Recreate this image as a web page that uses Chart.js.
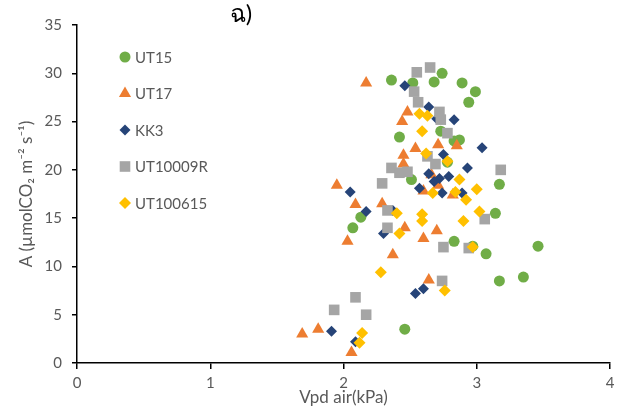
<!DOCTYPE html>
<html>
<head>
<meta charset="utf-8">
<script src="https://cdn.jsdelivr.net/npm/chart.js@4/dist/chart.umd.min.js"></script>
<style>
  html, body { margin: 0; padding: 0; background: #fff; }
  #wrap { width: 627px; height: 419px; }
</style>
</head>
<body>
<div id="wrap"><canvas id="myCanvas" width="627" height="419"></canvas></div>
<script>
// values
var seriesNames = ['UT15', 'UT17', 'KK3', 'UT10009R', 'UT100615'];

var ut15X = [2.36, 2.52, 2.74, 2.68, 2.89, 2.99, 2.94, 2.73, 2.42, 2.83, 2.87, 2.78, 2.51, 3.17, 3.14, 2.83, 2.97, 3.07, 3.46, 2.13, 2.07, 3.17, 3.35, 2.46];
var ut15Y = [29.3, 29.0, 30.0, 29.1, 29.0, 28.1, 27.0, 24.0, 23.4, 23.0, 23.1, 20.8, 19.0, 18.5, 15.5, 12.6, 12.1, 11.3, 12.1, 15.1, 14.0, 8.5, 8.9, 3.5];

var ut17X = [2.17, 2.48, 2.44, 2.54, 2.71, 2.85, 2.45, 2.45, 1.95, 2.09, 2.29, 2.03, 2.37, 2.66, 2.71, 2.60, 2.82, 2.46, 2.70, 2.60, 2.64, 1.69, 1.81, 2.06];
var ut17Y = [29.0, 26.0, 25.0, 22.2, 22.6, 22.5, 21.5, 20.6, 18.4, 16.4, 16.5, 12.6, 11.2, 19.5, 18.4, 17.8, 17.4, 14.0, 13.7, 12.9, 8.6, 3.0, 3.5, 1.1];

var kk3X = [2.46, 2.64, 2.83, 2.70, 3.04, 2.75, 2.93, 2.64, 2.72, 2.68, 2.79, 2.57, 2.74, 2.89, 2.37, 2.05, 2.17, 2.30, 1.91, 2.09, 2.54, 2.60];
var kk3Y = [28.7, 26.5, 25.2, 25.3, 22.3, 21.6, 20.2, 19.6, 19.1, 18.8, 19.3, 18.1, 17.6, 17.6, 15.8, 17.7, 15.7, 13.4, 3.3, 2.2, 7.2, 7.7];

var ut10009rX = [2.65, 2.55, 2.53, 2.56, 2.72, 2.73, 2.78, 2.63, 2.36, 2.42, 2.48, 2.69, 3.18, 2.29, 2.33, 2.33, 3.06, 2.75, 2.94, 2.74, 2.09, 1.93, 2.17];
var ut10009rY = [30.6, 30.1, 28.1, 27.0, 26.0, 25.2, 23.8, 21.4, 20.2, 19.7, 19.8, 20.6, 20.0, 18.6, 15.8, 14.0, 14.9, 12.0, 11.9, 8.5, 6.8, 5.5, 5.0];

var ut100615X = [2.57, 2.63, 2.59, 2.62, 2.78, 2.87, 3.00, 2.67, 2.84, 2.92, 3.02, 2.40, 2.59, 2.59, 2.90, 2.42, 2.97, 2.28, 2.14, 2.12, 2.76];
var ut100615Y = [25.8, 25.6, 24.0, 21.7, 20.9, 19.0, 18.0, 17.6, 17.7, 16.9, 15.7, 15.5, 15.4, 14.7, 14.7, 13.4, 12.0, 9.4, 3.1, 2.1, 7.5];

var xTicks = [0, 1, 2, 3, 4];
var yTicks = [0, 5, 10, 15, 20, 25, 30, 35];

function pts(xs, ys) {
    var out = [];
    for (var i = 0; i < xs.length; i++) out.push({x: xs[i], y: ys[i]});
    return out;
}

var fontName = 'Lato, "Noto Sans", sans-serif';
var textGrey = '#595959';

// order: later series drawn on top, like the original
var datasets = [
    {label: seriesNames[0], data: pts(ut15X, ut15Y), pointStyle: 'circle', pointRadius: 5.5, backgroundColor: '#70AD47', borderColor: '#70AD47', order: 4},
    {label: seriesNames[1], data: pts(ut17X, ut17Y), pointStyle: 'triangle', pointRadius: 7, backgroundColor: '#ED7D31', borderColor: '#ED7D31', order: 3},
    {label: seriesNames[2], data: pts(kk3X, kk3Y), pointStyle: 'rectRot', pointRadius: 5.5, backgroundColor: '#264478', borderColor: '#264478', order: 2},
    {label: seriesNames[3], data: pts(ut10009rX, ut10009rY), pointStyle: 'rect', pointRadius: 7.5, backgroundColor: '#A5A5A5', borderColor: '#A5A5A5', order: 1},
    {label: seriesNames[4], data: pts(ut100615X, ut100615Y), pointStyle: 'rectRot', pointRadius: 6, backgroundColor: '#FFC000', borderColor: '#FFC000', order: 0}
];
datasets.forEach(function (d) { d.borderWidth = 0; d.pointHoverRadius = d.pointRadius; });

// legend sits inside the plot, top left
var insideLegend = {
    id: 'insideLegend',
    afterDraw: function (chart) {
        var ctx = chart.ctx;
        var x0 = 125, y0 = 57, gap = 36.5;
        ctx.save();
        chart.data.datasets.forEach(function (d, i) {
            var y = y0 + i * gap;
            ctx.fillStyle = d.backgroundColor;
            ctx.strokeStyle = d.backgroundColor;
            ctx.lineWidth = 0;
            Chart.helpers.drawPoint(ctx, {pointStyle: d.pointStyle, radius: d.pointRadius, borderWidth: 0}, x0, y);
            ctx.fillStyle = textGrey;
            ctx.font = '15px ' + fontName;
            ctx.textAlign = 'left';
            ctx.textBaseline = 'middle';
            ctx.fillText(d.label, x0 + 10, y + 1);
        });
        ctx.restore();
    }
};

// the cut off title at the top
var topTitle = {
    id: 'topTitle',
    afterDraw: function (chart) {
        var ctx = chart.ctx;
        ctx.save();
        ctx.fillStyle = '#000';
        ctx.font = '24px ' + fontName;
        ctx.textAlign = 'center';
        ctx.textBaseline = 'middle';
        ctx.fillText('ฉ)', 241, 14);
        ctx.restore();
    }
};

var context = document.getElementById('myCanvas').getContext('2d');

var myChart = new Chart(context, {
    type: 'scatter',
    data: {datasets: datasets},
    options: {
        responsive: false,
        animation: false,
        layout: {padding: {left: 0, right: 17, top: 25, bottom: 0}},
        plugins: {
            legend: {display: false},
            tooltip: {enabled: false}
        },
        scales: {
            x: {
                type: 'linear',
                min: 0, max: 4,
                afterBuildTicks: function (s) { s.ticks = xTicks.map(function (v) { return {value: v}; }); },
                afterFit: function (s) { s.height = 56; },
                grid: {display: true, drawOnChartArea: false, drawTicks: true, tickLength: 6, color: '#000', lineWidth: 1.5},
                border: {display: true, color: '#000', width: 1.5},
                ticks: {color: textGrey, font: {family: fontName, size: 15}, padding: 5, maxRotation: 0},
                title: {display: true, text: 'Vpd air(kPa)', color: textGrey, font: {family: fontName, size: 17}, padding: {top: 0, bottom: 11}}
            },
            y: {
                type: 'linear',
                min: 0, max: 35,
                afterBuildTicks: function (s) { s.ticks = yTicks.map(function (v) { return {value: v}; }); },
                afterFit: function (s) { s.width = 77; },
                grid: {display: true, drawOnChartArea: false, drawTicks: true, tickLength: 5, color: '#000', lineWidth: 1.5},
                border: {display: true, color: '#000', width: 1.5},
                ticks: {color: textGrey, font: {family: fontName, size: 15}, padding: 10},
                title: {display: true, text: 'A (µmolCO₂ m⁻² s⁻¹)', color: textGrey, font: {family: fontName, size: 17}, padding: {top: 16, bottom: 0}}
            }
        }
    },
    plugins: [insideLegend, topTitle]
});
</script>
</body>
</html>
